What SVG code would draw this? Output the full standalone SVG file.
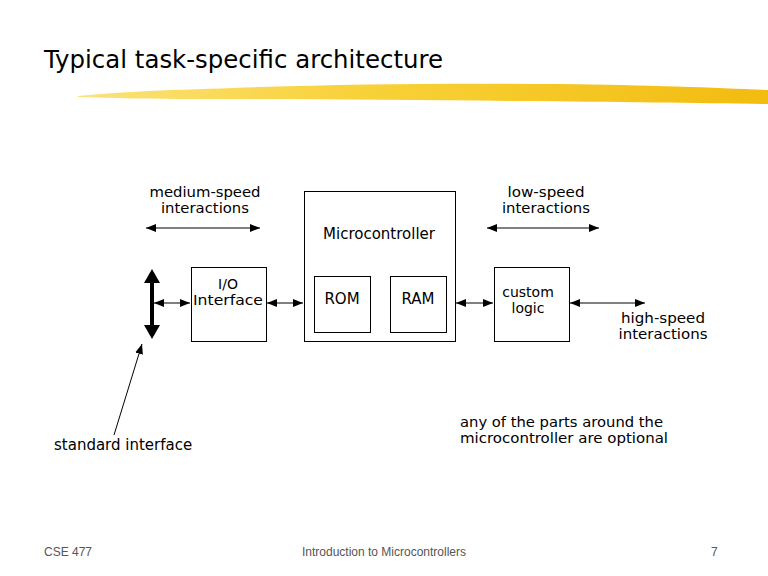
<svg xmlns="http://www.w3.org/2000/svg" width="768" height="576" viewBox="0 0 768 576">
<defs>
<style>
.t{font-family:"DejaVu Sans",Verdana,sans-serif;font-size:15px;fill:#000}
.s{font-size:14px}
.c{text-anchor:middle}
.box{fill:#fff;stroke:#000;stroke-width:1}
.ln{stroke:#000;stroke-width:1;fill:none}
.ft{font-family:"Liberation Sans",Arial,sans-serif;font-size:12px;fill:#555}
</style>
<marker id="ah" viewBox="0 0 10 8" refX="10" refY="4" markerWidth="10" markerHeight="8" markerUnits="userSpaceOnUse" orient="auto-start-reverse">
<path d="M0,0 L10,4 L0,8 Z" fill="#000"/>
</marker>
<linearGradient id="yg" x1="0" y1="0" x2="1" y2="0">
<stop offset="0" stop-color="#FBE27A"/>
<stop offset="0.4" stop-color="#F8D23A"/>
<stop offset="1" stop-color="#F2BC10"/>
</linearGradient>
</defs>
<rect width="768" height="576" fill="#fff"/>
<text x="44" y="68" font-family="'DejaVu Sans',sans-serif" font-size="24" textLength="399" lengthAdjust="spacingAndGlyphs">Typical task-specific architecture</text>
<path d="M78,96 C120,91 200,89 260,87 C350,84 450,83 560,84 C650,85 720,88 768,90 L768,104 C700,103 620,102 520,101 C420,100 300,99 200,99 C150,99 110,98 78,97 Z" fill="url(#yg)"/>
<g id="connectors">
<line class="ln" x1="146" y1="228" x2="260" y2="228" marker-start="url(#ah)" marker-end="url(#ah)"/>
<line class="ln" x1="487" y1="228" x2="599" y2="228" marker-start="url(#ah)" marker-end="url(#ah)"/>
<line class="ln" x1="154" y1="303" x2="190" y2="303" marker-start="url(#ah)" marker-end="url(#ah)"/>
<line class="ln" x1="267" y1="303" x2="303" y2="303" marker-start="url(#ah)" marker-end="url(#ah)"/>
<line class="ln" x1="456" y1="303" x2="493" y2="303" marker-start="url(#ah)" marker-end="url(#ah)"/>
<line class="ln" x1="570" y1="303" x2="645" y2="303" marker-start="url(#ah)" marker-end="url(#ah)"/>
<line class="ln" x1="114" y1="435" x2="142" y2="344" marker-end="url(#ah)"/>
<g id="bus">
<rect x="150" y="280" width="4" height="48" fill="#000"/>
<path d="M152,269 L160,283 L144,283 Z" fill="#000"/>
<path d="M152,339 L160,325 L144,325 Z" fill="#000"/>
</g>
</g>
<g id="microcontroller">
<rect class="box" x="304.5" y="191.5" width="151" height="150"/>
<text class="t c" x="379" y="239">Microcontroller</text>
</g>
<g id="rom">
<rect class="box" x="314.5" y="276.5" width="56" height="56"/>
<text class="t c" x="342" y="304">ROM</text>
</g>
<g id="ram">
<rect class="box" x="390.5" y="276.5" width="56" height="56"/>
<text class="t c" x="418" y="304">RAM</text>
</g>
<g id="io">
<rect class="box" x="191.5" y="267.5" width="75" height="74"/>
<text class="t s c" x="228" y="289">I/O</text>
<text class="t s c" x="228" y="305" textLength="70" lengthAdjust="spacingAndGlyphs">Interface</text>
</g>
<g id="custom">
<rect class="box" x="494.5" y="267.5" width="75" height="74"/>
<text class="t s c" x="528" y="297">custom</text>
<text class="t s c" x="528" y="313">logic</text>
</g>
<g id="labels">
<text class="t s c" x="205" y="197" textLength="111" lengthAdjust="spacingAndGlyphs">medium-speed</text>
<text class="t s c" x="205" y="213" textLength="88" lengthAdjust="spacingAndGlyphs">interactions</text>
<text class="t s c" x="546" y="197" textLength="77" lengthAdjust="spacingAndGlyphs">low-speed</text>
<text class="t s c" x="546" y="213" textLength="88" lengthAdjust="spacingAndGlyphs">interactions</text>
<text class="t s c" x="663" y="323" textLength="84" lengthAdjust="spacingAndGlyphs">high-speed</text>
<text class="t s c" x="663" y="339" textLength="89" lengthAdjust="spacingAndGlyphs">interactions</text>
<text class="t" x="54" y="450">standard interface</text>
<text class="t s" x="460" y="427" textLength="203" lengthAdjust="spacingAndGlyphs">any of the parts around the</text>
<text class="t s" x="460" y="443" textLength="208" lengthAdjust="spacingAndGlyphs">microcontroller are optional</text>
</g>
<text class="ft" x="44" y="556">CSE 477</text>
<text class="ft c" x="384" y="556">Introduction to Microcontrollers</text>
<text class="ft" x="711" y="556">7</text>
</svg>
